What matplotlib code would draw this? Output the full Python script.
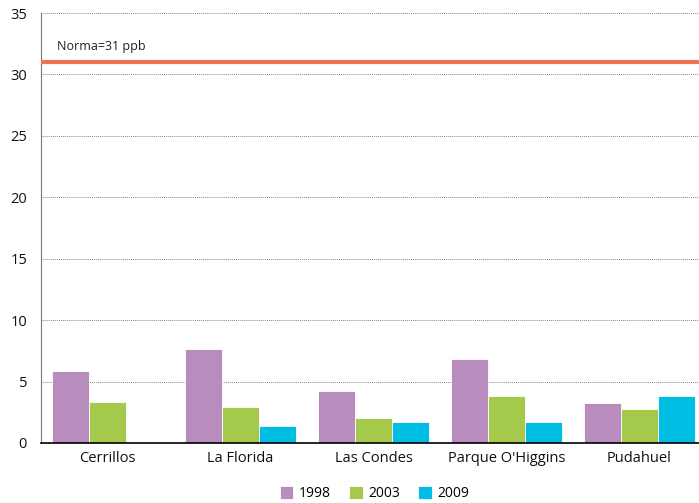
import numpy as np
import matplotlib.pyplot as plt

plt.rcParams['font.family'] = ['Open Sans', 'DejaVu Sans']

stations = ['Cerrillos', 'La Florida', 'Las Condes', "Parque O'Higgins", 'Pudahuel']
years = ['1998', '2003', '2009']
v1998 = [5.9, 7.65, 4.25, 6.85, 3.25]
v2003 = [3.35, 2.95, 2.05, 3.85, 2.8]
v2009 = [np.nan, 1.35, 1.7, 1.75, 3.8]
norma = 31
colors = ['#B88CBC', '#A5C94A', '#00BEE3']

fig = plt.figure(figsize=(6.99, 5.03), dpi=100)
ax = fig.add_axes([41 / 699, 1 - 443 / 503, 1 - 41 / 699, (443 - 13) / 503])

x = np.arange(len(stations))
w = 0.278
for i, (vals, c, lab) in enumerate(zip([v1998, v2003, v2009], colors, years)):
    ax.bar(x + (i - 1) * w, vals, width=w, color=c, edgecolor='white', linewidth=0.6, label=lab, zorder=3)

ax.axhline(norma, color='#EC7450', linewidth=3, zorder=4)
ax.text(-0.38, 32.0, 'Norma=31 ppb', fontsize=9, color='#222222')

ax.set_ylim(0, 35)
ax.set_yticks(range(0, 36, 5))
ax.set_xlim(-0.5, len(stations) - 1 + 0.447)
ax.set_xticks(x)
ax.set_xticklabels(stations)
ax.yaxis.grid(True, linestyle=(0, (1, 1)), color='#888888', linewidth=0.7, zorder=0)
ax.tick_params(length=0, labelsize=10.5, colors='#111111')
ax.tick_params(axis='x', pad=6)
ax.tick_params(axis='y', pad=10)
for s in ['top', 'right']:
    ax.spines[s].set_visible(False)
ax.spines['left'].set_color('#777777')
ax.spines['bottom'].set_color('black')
ax.spines['bottom'].set_linewidth(1.2)
ax.spines['bottom'].set_zorder(5)

ax.legend(loc='center', bbox_to_anchor=(0.507, -0.118), ncol=3, frameon=False,
          fontsize=10, handlelength=1.0, handleheight=1.0, handletextpad=0.4,
          columnspacing=1.3, borderpad=0)

fig.savefig('out.png', dpi=100)
